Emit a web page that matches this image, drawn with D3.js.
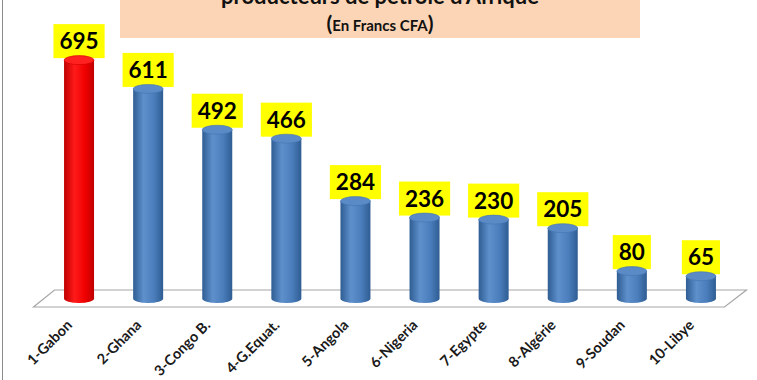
<!DOCTYPE html>
<html><head><meta charset="utf-8">
<script src="https://cdn.jsdelivr.net/npm/d3@7"></script>
<style>body{margin:0;background:#fff}svg{display:block}</style>
</head><body>
<script>
const categories = ["1-Gabon","2-Ghana","3-Congo B.","4-G.Equat.","5-Angola","6-Nigeria","7-Egypte","8-Algérie","9-Soudan","10-Libye"];
const values = [695,611,492,466,284,236,230,205,80,65];
const highlighted = ["1-Gabon"];
const titleLine = "producteurs de pétrole d'Afrique";
const subtitle = "En Francs CFA";

const W = 757, H = 380;
const svg = d3.select("body").append("svg").attr("width", W).attr("height", H);
const defs = svg.append("defs");

function cylGrad(id, dark, mid, light) {
  const g = defs.append("linearGradient").attr("id", id).attr("x1","0").attr("x2","1").attr("y1","0").attr("y2","0");
  g.append("stop").attr("offset","0%").attr("stop-color", dark);
  g.append("stop").attr("offset","35%").attr("stop-color", light);
  g.append("stop").attr("offset","70%").attr("stop-color", mid);
  g.append("stop").attr("offset","100%").attr("stop-color", dark);
}
cylGrad("gBlue", "#2f5d93", "#4a7dbb", "#5e90cc");
cylGrad("gRed", "#c00000", "#f00000", "#ff1a1a");

// frame line
svg.append("line").attr("x1",2.5).attr("x2",2.5).attr("y1",0).attr("y2",H).attr("stroke","#8c8c8c").attr("stroke-width",1);

// title box
svg.append("rect").attr("x",120).attr("y",0).attr("width",520).attr("height",38).attr("fill","#fbd5b5");
svg.append("text").attr("x",380).attr("y",4).attr("text-anchor","middle")
  .attr("font-family","Lato, 'Open Sans', sans-serif").attr("font-weight","bold").attr("font-size",22)
  .attr("fill","#111").text(titleLine);
const st = svg.append("text").attr("x",380).attr("y",31).attr("text-anchor","middle")
  .attr("font-family","Lato, 'Open Sans', sans-serif").attr("font-weight","bold").attr("fill","#111");
st.append("tspan").attr("font-size",21).text("(");
st.append("tspan").attr("font-size",15).text(subtitle);
st.append("tspan").attr("font-size",21).text(")");

const x = d3.scaleBand().domain(categories).range([44.5, 735.5]).padding(0);
const y = d3.scaleLinear().domain([0, 700]).range([298.5, 58.4]);
const [x0, x1] = x.range();
const y0 = y(0);

// floor
svg.append("path")
  .attr("d", `M${x0+10},${y0-8.5}L${x1+11},${y0-8.5}L${x1-11},${y0+8.5}L${x0-11},${y0+8.5}Z`)
  .attr("fill","#fff").attr("stroke","#a6a6a6").attr("stroke-width",1.2);

const rx = 15, ry = 4.5;
const data = categories.map((c,i)=>({c, v: values[i], hl: highlighted.includes(c)}));

// label boxes
const lab = svg.append("g").selectAll("g").data(data).join("g")
  .attr("transform", d => `translate(${x(d.c)+x.bandwidth()/2},${y(d.v)-2})`);
lab.each(function(d){
  const g = d3.select(this);
  const t = g.append("text").attr("text-anchor","middle").attr("y",-9)
    .attr("font-family","Lato, 'Open Sans', sans-serif").attr("font-weight","bold").attr("font-size",22.5)
    .attr("fill","#000").text(d.v);
  const bw = t.node().getComputedTextLength() + 12;
  g.insert("rect","text").attr("x",-bw/2).attr("y",-34).attr("width",bw).attr("height",34).attr("fill","#ffff00");
});

// bars
const bars = svg.append("g").selectAll("g").data(data).join("g")
  .attr("transform", d => `translate(${x(d.c)+x.bandwidth()/2},0)`);
bars.append("path")
  .attr("d", d => {
    const yt = y(d.v);
    return `M${-rx},${yt}L${-rx},${y0}A${rx},${ry} 0 0 0 ${rx},${y0}L${rx},${yt}Z`;
  })
  .attr("fill", d => d.hl ? "url(#gRed)" : "url(#gBlue)");
bars.append("ellipse")
  .attr("cx",0).attr("cy", d => y(d.v)).attr("rx",rx).attr("ry",ry)
  .attr("fill", d => d.hl ? "#ff2020" : "#5b8bc7")
  .attr("stroke", d => d.hl ? "#d00000" : "#4474ae").attr("stroke-width",0.6);

// axis labels
const axis = d3.axisBottom(x).tickSize(0).tickPadding(0);
const ag = svg.append("g").attr("transform", `translate(0,326)`).call(axis);
ag.attr("font-size", null).attr("font-family", null);
ag.select(".domain").remove();
ag.selectAll("text")
  .style("font-family","Lato, 'Open Sans', sans-serif").style("font-weight","bold").style("font-size","14.5px")
  .attr("fill","#1a1a1a").attr("text-anchor","end")
  .attr("dy",0).attr("y",0).attr("x",0)
  .attr("transform","translate(-6,0) rotate(-45)");
</script>
</body></html>
